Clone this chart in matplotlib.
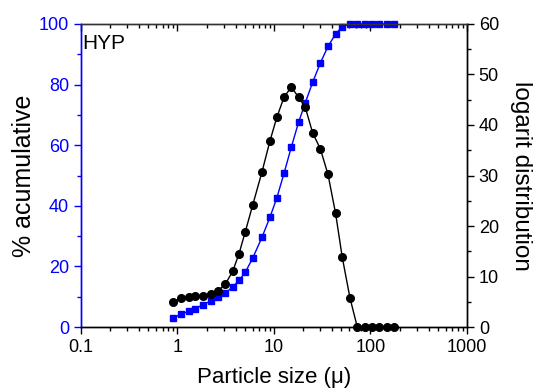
import matplotlib
matplotlib.use("Agg")
import matplotlib.pyplot as plt
from matplotlib.ticker import LogLocator, FixedLocator, MultipleLocator, NullFormatter, FuncFormatter

plt.rcParams['font.family'] = ['Liberation Sans', 'DejaVu Sans']

size = [0.9, 1.1, 1.31, 1.52, 1.82, 2.21, 2.65, 3.13, 3.73, 4.34, 5.05, 6.01,
        7.51, 9.1, 10.7, 12.7, 15.1, 18.0, 21.1, 25.2, 30.2, 36.3, 43.5, 51.0,
        61.4, 73.0, 87.0, 104, 124, 147, 177]
cumulative = [3.0, 4.3, 5.2, 6.0, 7.3, 8.6, 9.8, 11.2, 13.2, 15.4, 18.1, 22.7,
              29.6, 36.3, 42.6, 50.7, 59.3, 67.6, 74.0, 80.8, 87.1, 92.6, 96.7,
              99.1, 100, 100, 100, 100, 100, 100, 100]
logdist = [4.9, 5.8, 5.9, 6.1, 6.2, 6.6, 7.2, 8.5, 11.0, 14.5, 18.9, 24.1,
           30.7, 36.9, 41.5, 45.5, 47.5, 45.5, 43.5, 38.4, 35.3, 30.2, 22.5,
           13.8, 5.7, 0, 0, 0, 0, 0, 0]
xticks = [0.1, 1, 10, 100, 1000]

fig = plt.figure(figsize=(5.37, 3.90), dpi=100)
ax = fig.add_axes([0.1508, 0.1615, 0.7188, 0.777])
ax2 = ax.twinx()

ax.plot(size, cumulative, color='#0000ff', marker='s', markersize=4.6,
        linewidth=1.0, clip_on=False, zorder=3)
ax2.plot(size, logdist, color='black', marker='o', markersize=5.5,
         linewidth=1.0, clip_on=False, zorder=3)

ax.set_xscale('log')
ax.set_xlim(0.1, 1000)
ax.set_ylim(0, 100)
ax2.set_ylim(0, 60)

ax.xaxis.set_major_locator(FixedLocator(xticks))
ax.xaxis.set_major_formatter(FuncFormatter(lambda v, p: ('%g' % v)))
ax.xaxis.set_minor_locator(LogLocator(base=10, subs=range(2, 10), numticks=20))
ax.xaxis.set_minor_formatter(NullFormatter())

ax.yaxis.set_major_locator(MultipleLocator(20))
ax.yaxis.set_minor_locator(MultipleLocator(10))
ax2.yaxis.set_major_locator(MultipleLocator(10))
ax2.yaxis.set_minor_locator(MultipleLocator(5))

fs_tick = 13
ax.tick_params(axis='x', which='major', direction='out', length=5, width=1,
               labelsize=fs_tick, top=True, labeltop=False)
ax.tick_params(axis='x', which='minor', direction='out', length=3, width=1, top=True)
ax.tick_params(axis='y', which='major', direction='out', length=5, width=1,
               labelsize=fs_tick, colors='#0000ff')
ax.tick_params(axis='y', which='minor', direction='out', length=3, width=1, colors='#0000ff')
ax2.tick_params(axis='y', which='major', direction='out', length=5, width=1,
                labelsize=fs_tick, colors='black')
ax2.tick_params(axis='y', which='minor', direction='out', length=3, width=1)

# top ticks point inward
for t in ax.xaxis.get_major_ticks() + ax.xaxis.get_minor_ticks():
    t.tick2line.set_marker(matplotlib.lines.TICKDOWN)

ax.spines['left'].set_color('#0000ff')
ax2.spines['left'].set_color('#0000ff')
for a in (ax, ax2):
    a.spines['top'].set_color('#333333')
    for s in a.spines.values():
        s.set_linewidth(1.0)

ax.set_xlabel('Particle size (μ)', fontsize=16, labelpad=8)
ax.set_ylabel('% acumulative', fontsize=18, labelpad=2)
ax2.set_ylabel('logarit distribution', fontsize=17.5, rotation=270, labelpad=24)

ax.text(0.004, 0.968, 'HYP', transform=ax.transAxes, fontsize=15,
        ha='left', va='top')

fig.savefig('out.png', dpi=100)
